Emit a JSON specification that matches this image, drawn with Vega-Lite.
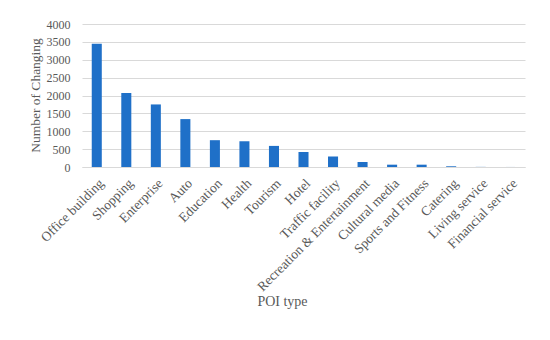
{
  "$schema": "https://vega.github.io/schema/vega-lite/v6.json",
  "autosize": "none",
  "width": 443,
  "height": 143,
  "padding": {"left": 82, "top": 24, "right": 25, "bottom": 173},
  "background": "white",
  "data": {"values": [
    {"type": "Office building", "count": 3450},
    {"type": "Shopping", "count": 2070},
    {"type": "Enterprise", "count": 1750},
    {"type": "Auto", "count": 1340},
    {"type": "Education", "count": 750},
    {"type": "Health", "count": 720},
    {"type": "Tourism", "count": 590},
    {"type": "Hotel", "count": 420},
    {"type": "Traffic facility", "count": 295},
    {"type": "Recreation & Entertainment", "count": 140},
    {"type": "Cultural media", "count": 65},
    {"type": "Sports and Fitness", "count": 65},
    {"type": "Catering", "count": 20},
    {"type": "Living service", "count": 3},
    {"type": "Financial service", "count": 1}
  ]},
  "mark": {"type": "bar", "color": "#1f70c8"},
  "encoding": {
    "x": {
      "field": "type", "type": "nominal", "sort": null,
      "scale": {"paddingInner": 0.66, "paddingOuter": 0.33},
      "axis": {
        "title": "POI type", "labelAngle": -45, "labelAlign": "right", "labelBaseline": "top",
        "labelFont": "Liberation Serif", "labelFontSize": 13.5, "labelColor": "#595959", "labelOverlap": false,
        "titleFont": "Liberation Serif", "titleFontSize": 14, "titleFontWeight": "normal", "titleColor": "#595959",
        "titleX": 200, "titleY": 127,
        "ticks": false, "domainColor": "#d9d9d9", "domainWidth": 1.2, "labelPadding": 9
      }
    },
    "y": {
      "field": "count", "type": "quantitative",
      "scale": {"domain": [0, 4000]},
      "axis": {
        "title": "Number of Changing", "values": [0,500,1000,1500,2000,2500,3000,3500,4000], "format": "d", "labelOverlap": false,
        "labelFont": "Liberation Serif", "labelFontSize": 12, "labelColor": "#595959",
        "titleFont": "Liberation Serif", "titleFontSize": 13.5, "titleFontWeight": "normal", "titleColor": "#595959",
        "titleX": -47, "titleY": 71, "titleBaseline": "middle", "titleAngle": -90,
        "ticks": false, "domain": false, "gridColor": "#d9d9d9", "gridWidth": 1.2, "labelPadding": 12
      }
    }
  },
  "config": {"view": {"stroke": null}}
}
